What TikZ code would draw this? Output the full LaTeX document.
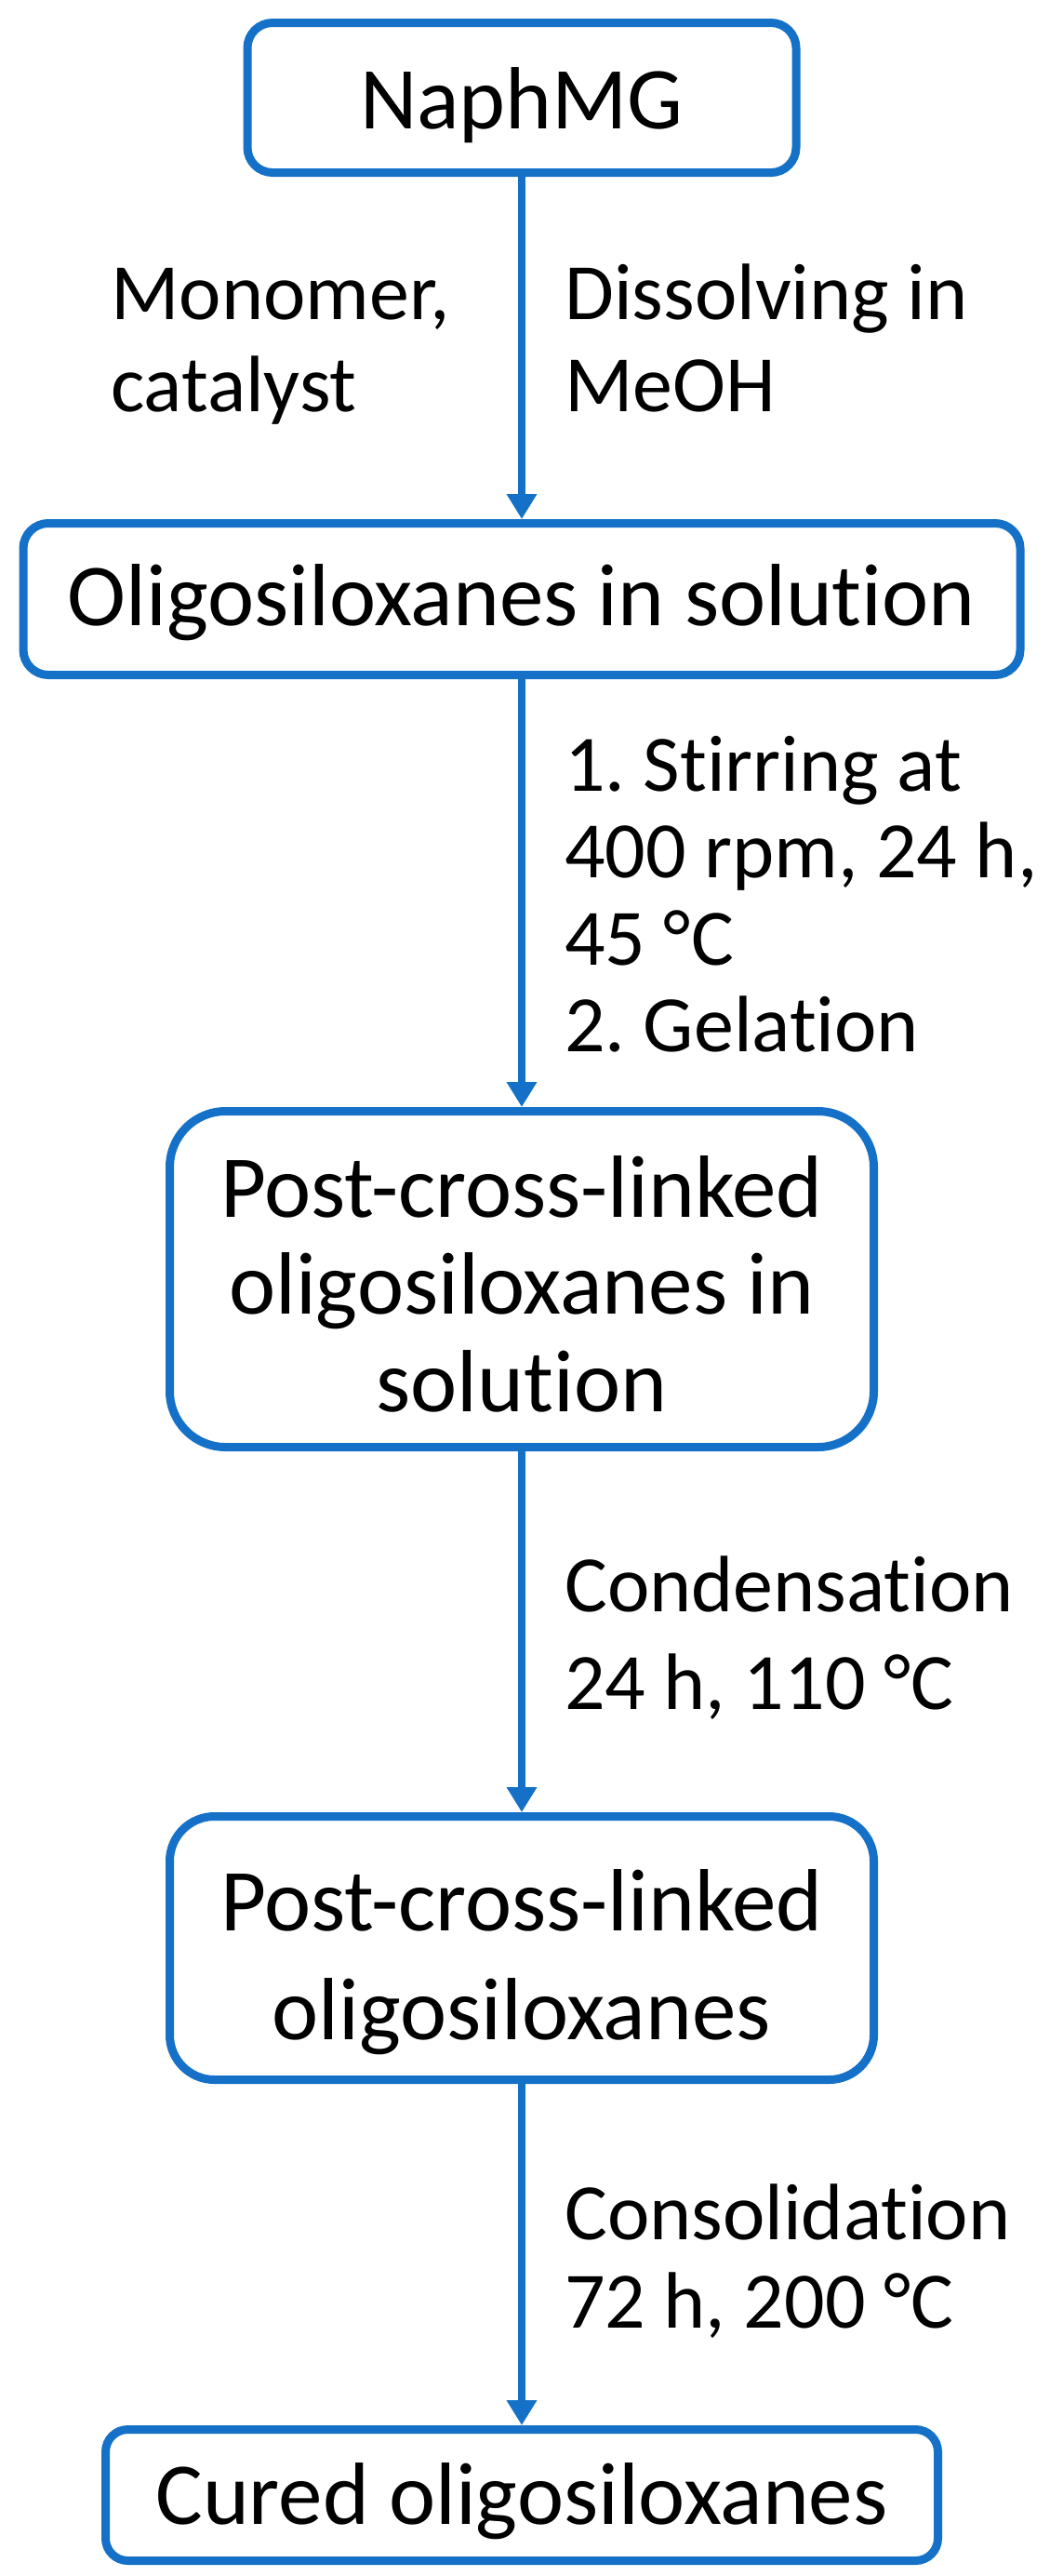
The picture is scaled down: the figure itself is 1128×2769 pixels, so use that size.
\documentclass[tikz,border=0pt]{standalone}
\usepackage{fontspec}
\setmainfont{Carlito}[Ligatures={NoCommon,NoContextual}]
\usetikzlibrary{arrows.meta}
\definecolor{flowblue}{RGB}{21,113,199}
\newcommand{\topstrut}[1]{\vrule height #1pt depth 0pt width 0pt}
\newcommand{\botstrut}{\vrule height 0pt depth 24pt width 0pt}
\frenchspacing
\begin{document}
\begin{tikzpicture}[x=1pt, y=-1pt,
  stepbox/.style={draw=flowblue, line width=9pt, fill=white, align=center,
    inner sep=0pt, text=black, font=\fontsize{95}{#1}\selectfont},
  lbl/.style={align=left, inner sep=0pt, anchor=north west, text=black,
    font=\fontsize{86}{#1}\selectfont},
  flow/.style={draw=flowblue, line width=8.5pt, -{Triangle[width=31pt,length=27pt]}}]
\useasboundingbox (0,0) rectangle (1128,2769);

% boxes
\node[stepbox=105, rounded corners=27pt, minimum width=590pt, minimum height=161pt]
  (naph) at (561,105) {\topstrut{90}NaphMG\botstrut};
\node[stepbox=105, rounded corners=27pt, minimum width=1072pt, minimum height=163pt]
  (olig) at (561,644) {\topstrut{80}Oligosiloxanes in solution\botstrut};
\node[stepbox=104.5, rounded corners=60pt, minimum width=757pt, minimum height=361pt]
  (pcls) at (561,1375) {\topstrut{99}Post-cross-linked\\oligosiloxanes in\\solution\botstrut};
\node[stepbox=117, rounded corners=48pt, minimum width=757pt, minimum height=283pt]
  (pcl) at (561,2094) {\topstrut{103}Post-cross-linked\\oligosiloxanes\botstrut};
\node[stepbox=105, rounded corners=24pt, minimum width=895pt, minimum height=141pt]
  (cured) at (561,2682) {\topstrut{86}Cured oligosiloxanes\botstrut};

% connectors
\draw[flow] (naph.south) -- (olig.north);
\draw[flow] (olig.south) -- (pcls.north);
\draw[flow] (pcls.south) -- (pcl.north);
\draw[flow] (pcl.south) -- (cured.north);

% labels
\node[lbl=99] (lab1l) at (119,273) {\topstrut{70}Monomer,\\catalyst};
\node[lbl=99] (lab1r) at (607,273) {\topstrut{70}Dissolving in\\MeOH};
\node[lbl=93.5] (lab2) at (607,780) {\topstrut{70}1. Stirring at\\400 rpm, 24 h,\\45 °C\\2. Gelation};
\node[lbl=105] (lab3) at (607,1662) {\topstrut{70}Condensation\\24 h, 110 °C};
\node[lbl=95] (lab4) at (607,2337) {\topstrut{70}Consolidation\\72 h, 200 °C};
\end{tikzpicture}
\end{document}
